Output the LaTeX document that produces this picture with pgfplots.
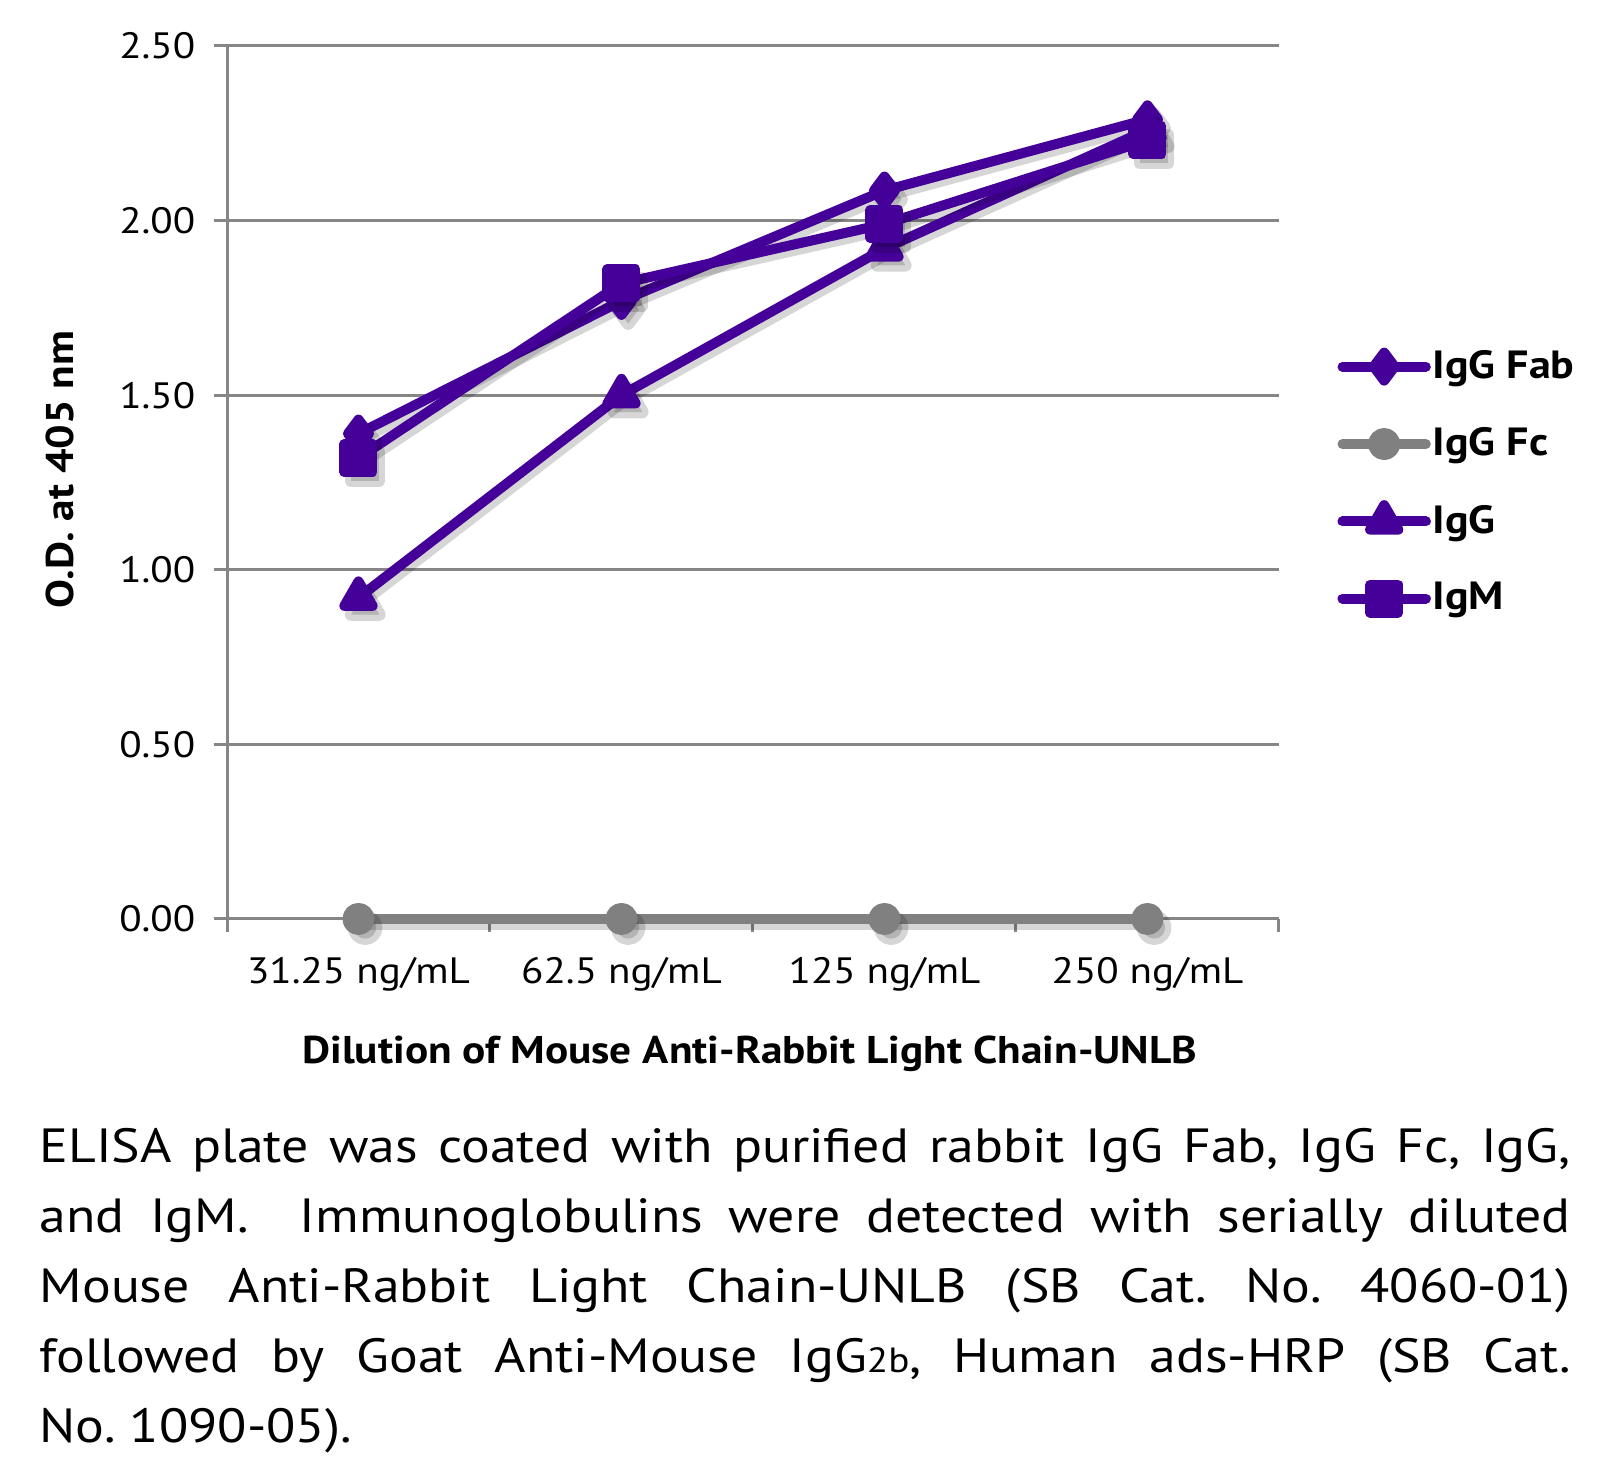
\documentclass[border=0pt]{standalone}
\usepackage{pgfplots}
\pgfplotsset{compat=1.18}
\usepackage{fontspec}
\setmainfont{PT Sans}[FakeStretch=1.12]
\frenchspacing
\definecolor{purp}{RGB}{69,0,154}
\definecolor{grayser}{RGB}{128,128,128}
\definecolor{gridc}{RGB}{134,134,134}
\pgfplotsset{
  shadowplot/.style={forget plot, black, opacity=0.16, line width=3.8pt, line join=round,
     transform canvas={shift={(1pt,-1.3pt)}}, mark options={solid, draw=none}},
}
\begin{document}
\begin{tikzpicture}
\path[use as bounding box] (0,0) rectangle (485.1pt,438pt);
\begin{axis}[
  at={(68.1pt,162.3pt)}, anchor=south west,
  scale only axis, width=315.6pt, height=261.9pt,
  xmin=-0.5, xmax=3.5, ymin=0, ymax=2.5,
  clip=false,
  axis lines*=left,
  axis line style={gridc, line width=0.9pt},
  ymajorgrids, grid style={gridc, line width=0.9pt},
  ytick={0,0.5,1,1.5,2,2.5},
  yticklabel style={/pgf/number format/fixed, /pgf/number format/fixed zerofill,
     /pgf/number format/precision=2, /pgf/number format/assume math mode=true, xshift=-2pt},
  xtick={0,1,2,3},
  xticklabels={31.25 ng/mL, 62.5 ng/mL, 125 ng/mL, 250 ng/mL},
  minor xtick={-0.5,0.5,1.5,2.5,3.5},
  every major x tick/.append style={draw=none},
  tick align=outside,
  major tick length=4pt, minor tick length=4pt,
  tick style={gridc, line width=0.9pt},
  tick label style={font=\fontsize{11}{13}\selectfont, text=black},
  xticklabel style={yshift=-4pt},
  xlabel={Dilution of Mouse Anti-Rabbit Light Chain-UNLB},
  ylabel={O.D. at 405 nm},
  label style={font=\bfseries\fontsize{11.6}{13}\selectfont},
  xlabel style={at={(axis description cs:0.497,-0.155)}, anchor=center},
  ylabel style={at={(axis description cs:-0.159,0.515)}, anchor=center},
  legend style={at={(axis description cs:1.055,0.5)}, anchor=west, draw=none, fill=none,
     inner sep=0pt, font=\bfseries\fontsize{11.8}{14}\selectfont, row sep=9.3pt,
     nodes={inner xsep=0.5pt}},
  legend cell align=left,
  legend image code/.code={\draw[#1, line cap=round, mark repeat=2, mark phase=2]
     plot coordinates {(0pt,0pt) (12.5pt,0pt) (25pt,0pt)};},
]
% IgG Fab
\addplot[shadowplot, mark=diamond*, mark size=4.2pt] coordinates {(0,1.39) (1,1.77) (2,2.086) (3,2.29)};
\addplot[purp, line width=3pt, line join=round, mark=diamond*, mark size=4.2pt, mark options={solid}]
  coordinates {(0,1.39) (1,1.77) (2,2.086) (3,2.29)};
\addlegendentry{IgG Fab}
% IgG Fc
\addplot[shadowplot, mark=*, mark size=3.3pt] coordinates {(0,0) (1,0) (2,0) (3,0)};
\addplot[grayser, line width=3pt, line join=round, mark=*, mark size=3.3pt, mark options={solid}]
  coordinates {(0,0) (1,0) (2,0) (3,0)};
\addlegendentry{IgG Fc}
% IgG
\addplot[shadowplot, mark=triangle*, mark size=4.9pt] coordinates {(0,0.92) (1,1.50) (2,1.92) (3,2.26)};
\addplot[purp, line width=3pt, line join=round, mark=triangle*, mark size=4.9pt, mark options={solid}]
  coordinates {(0,0.92) (1,1.50) (2,1.92) (3,2.26)};
\addlegendentry{IgG}
% IgM
\addplot[shadowplot, mark=square*, mark size=4.2pt] coordinates {(0,1.32) (1,1.82) (2,1.99) (3,2.23)};
\addplot[purp, line width=3pt, line join=round, mark=square*, mark size=4.2pt, mark options={solid}]
  coordinates {(0,1.32) (1,1.82) (2,1.99) (3,2.23)};
\addlegendentry{IgM}
\end{axis}
\node[anchor=base west, inner sep=0pt, text width=459.3pt, align=justify,
      font=\fontsize{14.4}{21}\selectfont] at (11.7pt,89.1pt)
{ELISA plate was coated with purified rabbit IgG Fab, IgG Fc, IgG,\linebreak
and IgM.\ \ Immunoglobulins were detected with serially diluted\linebreak
Mouse Anti-Rabbit Light Chain-UNLB (SB Cat. No. 4060-01)\linebreak
followed by Goat Anti-Mouse IgG{\fontsize{10.5}{10}\selectfont 2b}, Human ads-HRP (SB Cat.\linebreak
No. 1090-05).};
\end{tikzpicture}
\end{document}
